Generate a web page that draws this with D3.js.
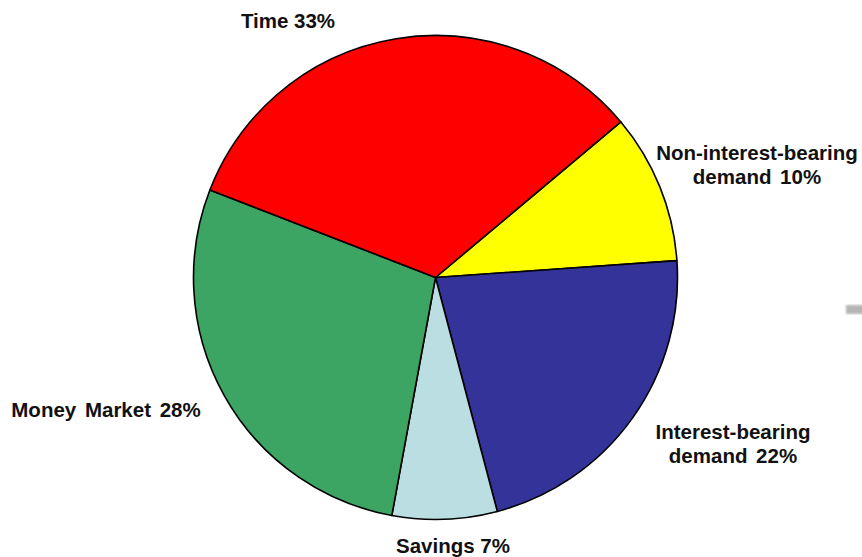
<!DOCTYPE html>
<html>
<head>
<meta charset="utf-8">
<script src="https://cdn.jsdelivr.net/npm/d3@7/dist/d3.min.js"></script>
<style>
  html, body { margin: 0; padding: 0; background: #ffffff; }
  svg { display: block; }
  text { font-family: "Liberation Sans", Arial, sans-serif; font-weight: bold; fill: #111; }
</style>
</head>
<body>
<svg id="chart" width="862" height="557"></svg>
<script>
// Deposit mix, clockwise from the upper right
const categories = ["Non-interest-bearing demand", "Interest-bearing demand", "Savings", "Money Market", "Time"];
const shares = [10, 22, 7, 28, 33];
const colors = ["#FFFF00", "#333399", "#BBDEE2", "#3CA563", "#FF0000"];

// Label lines per slice and where each label block sits
const labelLines = [
  ["Non-interest-bearing", "demand 10%"],
  ["Interest-bearing", "demand 22%"],
  ["Savings 7%"],
  ["Money Market 28%"],
  ["Time 33%"]
];
const labelPos = [
  { x: 757, y: 160, anchor: "middle" },
  { x: 733, y: 439, anchor: "middle" },
  { x: 453, y: 553, anchor: "middle" },
  { x: 106, y: 417, anchor: "middle" },
  { x: 288, y: 28, anchor: "middle" }
];

const svg = d3.select("#chart");
const cx = 435.5, cy = 277.5, radius = 242;

const pie = d3.pie()
  .value(d => d)
  .sort(null)
  .startAngle(50 * Math.PI / 180)
  .endAngle(50 * Math.PI / 180 + 2 * Math.PI);

const arc = d3.arc().innerRadius(0).outerRadius(radius);

const g = svg.append("g").attr("transform", `translate(${cx},${cy})`);

g.selectAll("path.slice")
  .data(pie(shares))
  .join("path")
  .attr("class", "slice")
  .attr("d", arc)
  .attr("fill", (d, i) => colors[i])
  .attr("stroke", "#000")
  .attr("stroke-width", 1.6)
  .attr("stroke-linejoin", "round");

// Slice labels
const labels = svg.selectAll("text.label")
  .data(labelLines)
  .join("text")
  .attr("class", "label")
  .attr("x", (d, i) => labelPos[i].x)
  .attr("y", (d, i) => labelPos[i].y)
  .attr("text-anchor", (d, i) => labelPos[i].anchor)
  .style("font-size", "20.5px");

labels.each(function(lines, i) {
  const t = d3.select(this);
  lines.forEach((line, j) => {
    t.append("tspan")
      .attr("x", labelPos[i].x)
      .attr("dy", j === 0 ? 0 : 24)
      .style("word-spacing", /demand|Market/.test(line) ? "3px" : "0px")
      .text(line);
  });
});

// Small grey marker at the right edge
const defs = svg.append("defs");
defs.append("filter").attr("id", "soft")
  .append("feGaussianBlur").attr("stdDeviation", 1.2);
svg.append("rect")
  .attr("x", 846).attr("y", 305)
  .attr("width", 20).attr("height", 9)
  .attr("fill", "#b5b5b5")
  .attr("filter", "url(#soft)");
</script>
</body>
</html>
